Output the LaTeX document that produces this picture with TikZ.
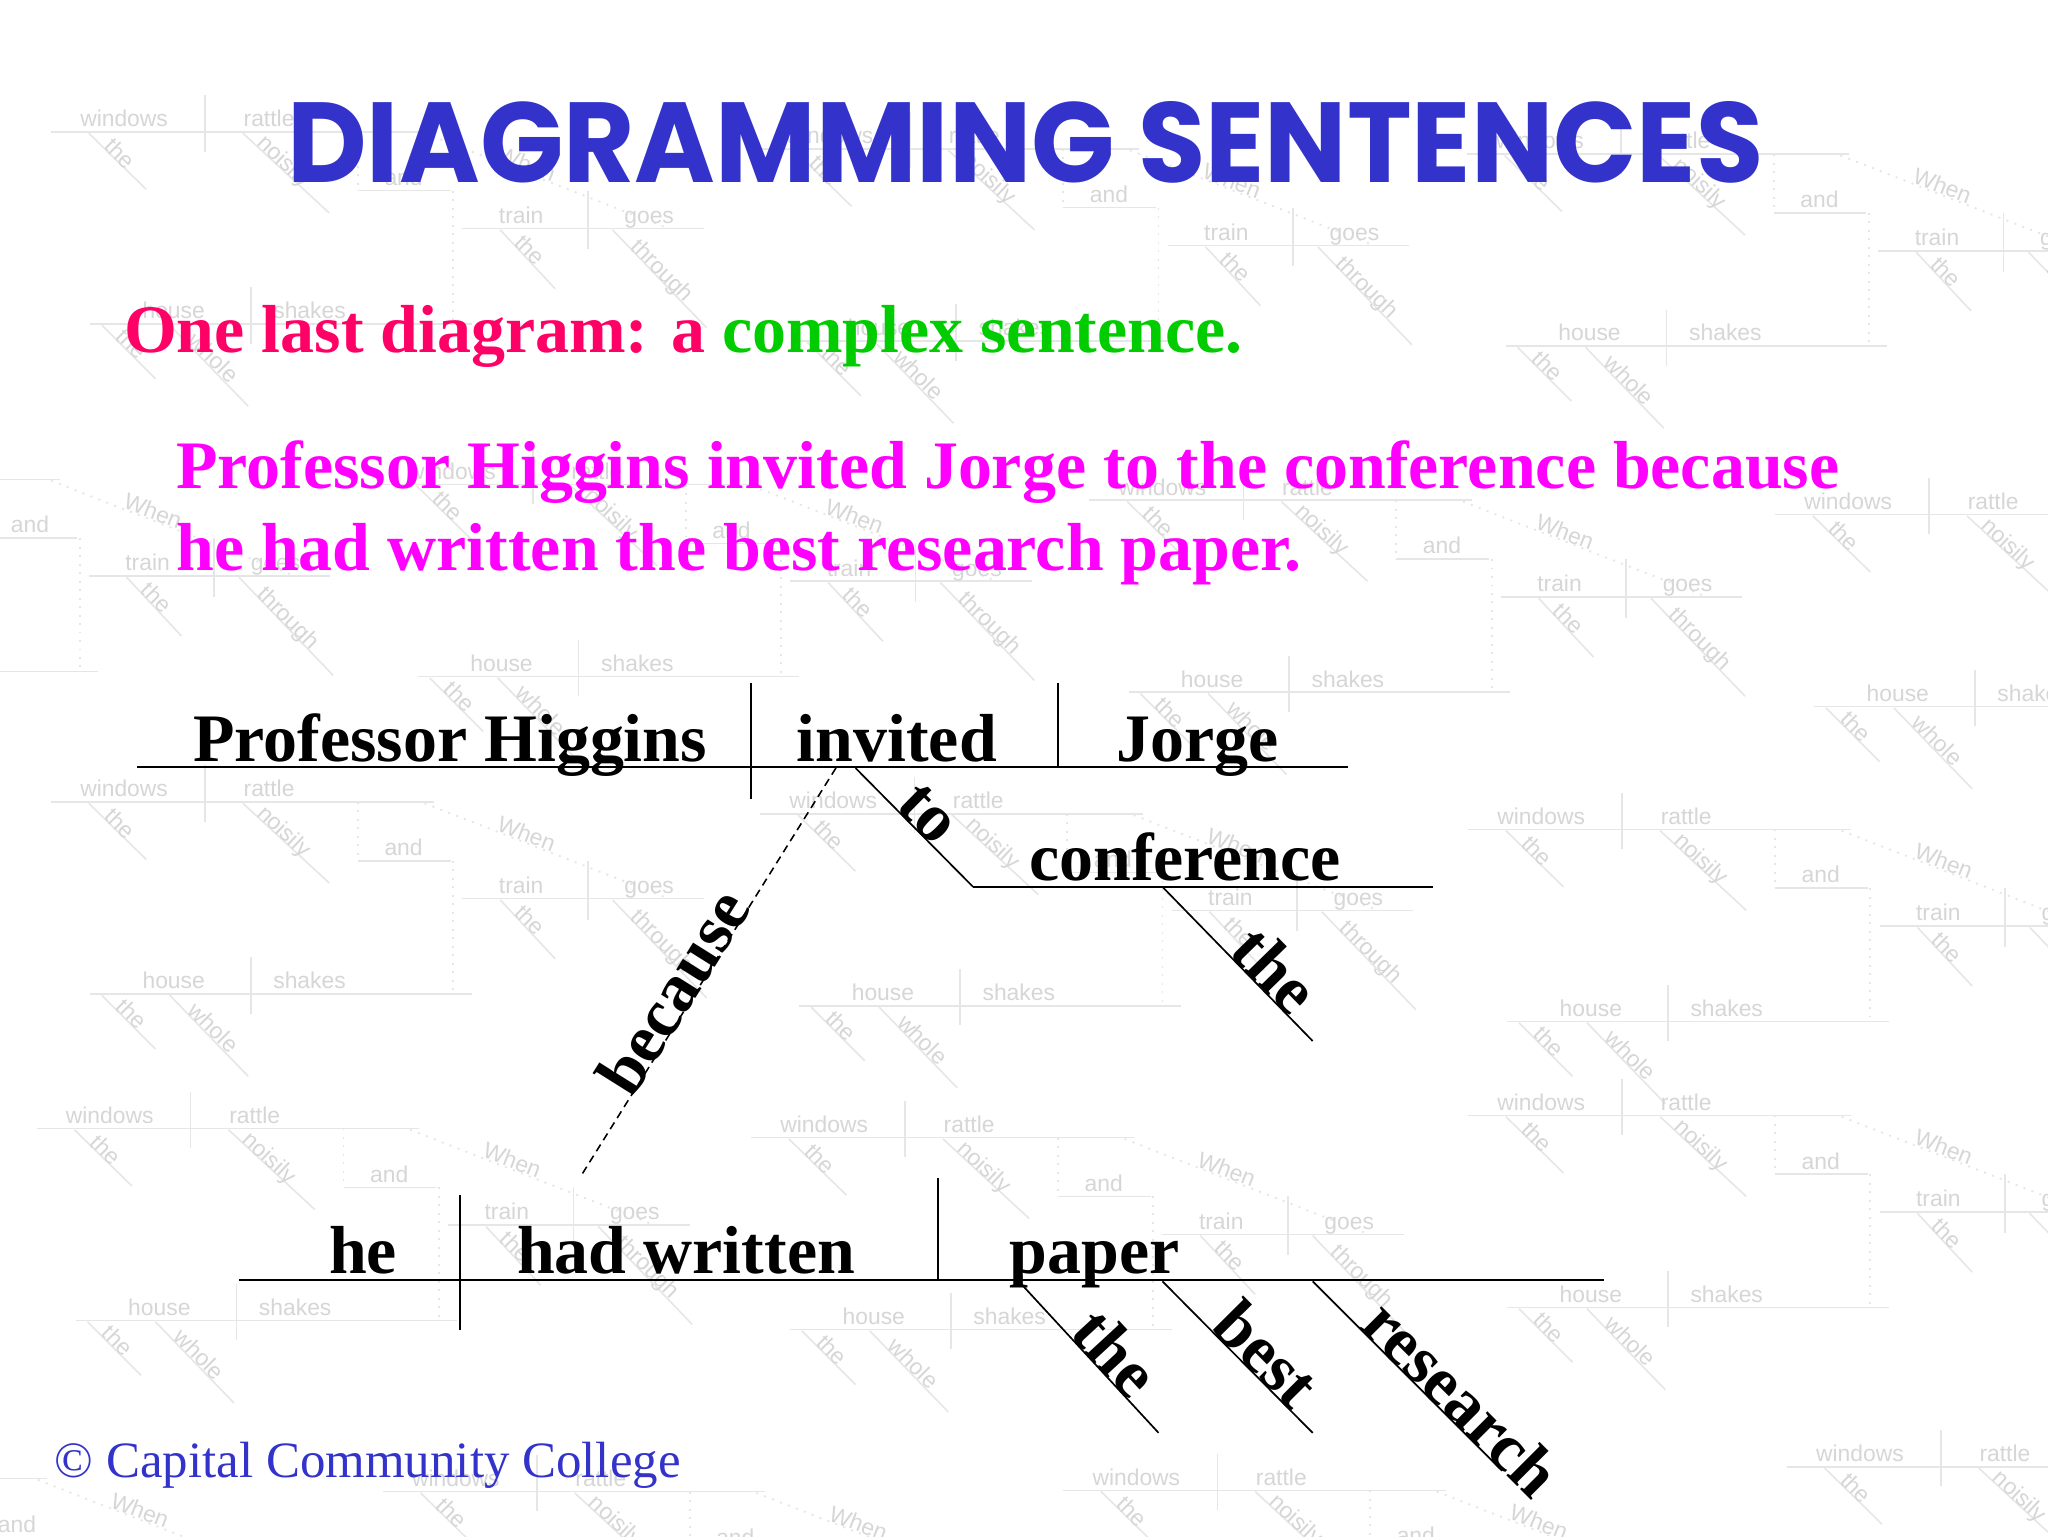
\documentclass[tikz,border=0pt]{standalone}
\usepackage{fontspec}
\setmainfont{Liberation Serif}
\newfontfamily\titlefont{Poppins}
\newfontfamily\bgfont{Liberation Sans}
\usetikzlibrary{calc}
\definecolor{titleblue}{RGB}{51,51,204}
\definecolor{subred}{RGB}{255,0,102}
\definecolor{subgreen}{RGB}{0,204,0}
\definecolor{magtext}{RGB}{255,0,255}
\definecolor{bggray}{RGB}{230,230,230}
\definecolor{bgtextgray}{RGB}{214,214,214}
\tikzset{
  txt/.style={inner sep=0pt, outer sep=0pt, anchor=base west},
  bigbold/.style={txt, font=\fontsize{52}{60}\selectfont\bfseries},
  diagline/.style={line width=1.6pt, black},
  divider/.style={line width=1.3pt, black},
  becline/.style={line width=1.2pt, black, dash pattern=on 6pt off 4pt},
  bgl/.style={draw=bggray, line width=1.2pt},
  bgd/.style={draw=bggray, line width=1.4pt, dash pattern=on 1.5pt off 5pt},
  bgt/.style={inner sep=0pt, outer sep=0pt, text=bgtextgray, font=\bgfont\fontsize{17.5}{20}\selectfont, anchor=base},
  bgtd/.style={bgt, anchor=base west, rotate=-45},
  bgtile/.pic={
    \draw[bgl] (-293,0) -- (0,0);
    \draw[bgl] (-175,-28) -- (-175,15);
    \node[bgt] (-w) at (-237,-4) {windows};
    \node[bgt] (-r) at (-126,-4) {rattle};
    \draw[bgl] (-264,1) -- (-220,44);
    \node[bgtd] (-t1) at (-253,12) {the};
    \draw[bgl] (-146,1) -- (-80,62);
    \node[bgtd, rotate=2] (-n) at (-136,10) {noisily};
    \draw[bgd] (-58,0) -- (-58,45);
    \draw[bgl] (-58,45) -- (13,45);
    \node[bgt] (-a) at (-23,41) {and};
    \draw[bgd] (15,45) -- (15,147);
    \draw[bgl] (-263,147) -- (29,147);
    \draw[bgl] (-140,119) -- (-140,162);
    \node[bgt] (-h) at (-199,143) {house};
    \node[bgt] (-s) at (-95,143) {shakes};
    \draw[bgl] (-254,148) -- (-213,189);
    \node[bgtd] (-t2) at (-244,158) {the};
    \draw[bgl] (-202,148) -- (-142,210);
    \node[bgtd] (-wh) at (-189,161) {whole};
    \draw[bgd] (-7,1) -- (180,74);
    \node[bgt, rotate=-21] (-wn) at (69,30) {When};
    \draw[bgl] (22,74) -- (207,74);
    \draw[bgl] (118,45) -- (118,90);
    \node[bgt] (-tr) at (67,70) {train};
    \node[bgt] (-g) at (165,70) {goes};
    \draw[bgl] (51,75) -- (93,120);
    \node[bgtd] (-t3) at (61,86) {the};
    \draw[bgl] (137,75) -- (209,150);
    \node[bgtd] (-th) at (150,89) {through};
  }
}
\begin{document}
\begin{tikzpicture}[x=1pt, y=-1pt]
  \useasboundingbox (0,0) rectangle (1568,1176);
  \fill[white] (0,0) rectangle (1568,1176);
  % faint background diagrams
  \begin{scope}
    \clip (0,0) rectangle (1568,1176);
    \foreach \nm/\px/\py in {a/332/101, b/1652/394, c/332/614, d/1417/635, e/321/864,
      f/868/871, g/1417/854, h/1107/1141, i/1661/1123, j/875/623, k/872/114,
      l/1127/383, m/583/371, n/1416/118, o/46/367, p/36/1132, q/586/1142}
      \pic (bg\nm) at (\px,\py) {bgtile};
  \end{scope}
  % titles
  \node[txt, text=titleblue] (title) at (220,140)
    {\resizebox{1130pt}{62pt}{\titlefont\bfseries DIAGRAMMING SENTENCES}};
  \node[bigbold] (subtitle) at (95,270)
    {\textcolor{subred}{One last diagram: a }\textcolor{subgreen}{complex sentence.}};
  \node[bigbold, text=magtext] (sent1) at (135,374)
    {Professor Higgins invited Jorge to the conference because};
  \node[bigbold, text=magtext] (sent2) at (135,437)
    {he had written the best research paper.};
  % main clause coordinates
  \coordinate (tl) at (105,587);
  \coordinate (tr) at (1032,587);
  \coordinate (d1t) at (575,523);
  \coordinate (d1b) at (575,612);
  \coordinate (d2t) at (810,523);
  \coordinate (d2b) at (810,587);
  \coordinate (toA) at (655,588);
  \coordinate (toB) at (745,679);
  \coordinate (confR) at (1097,679);
  \coordinate (theA) at (890,679);
  \coordinate (theB) at (1005,797);
  \coordinate (becA) at (640,588);
  \coordinate (becB) at (445,900);
  % subordinate clause coordinates
  \coordinate (bl) at (183,980);
  \coordinate (br) at (1228,980);
  \coordinate (d3t) at (352,915);
  \coordinate (d3b) at (352,1018);
  \coordinate (d4t) at (718,902);
  \coordinate (d4b) at (718,980);
  \coordinate (pthA) at (780,981);
  \coordinate (pthB) at (887,1097);
  \coordinate (bestA) at (890,981);
  \coordinate (bestB) at (1005,1097);
  \coordinate (resA) at (1005,981);
  \coordinate (resB) at (1150,1126);
  % lines
  \draw[diagline] (tl) -- (tr);
  \draw[divider] (d1t) -- (d1b);
  \draw[divider] (d2t) -- (d2b);
  \draw[divider] (toA) -- (toB);
  \draw[diagline] (toB) -- (confR);
  \draw[divider] (theA) -- (theB);
  \draw[becline] (becA) -- (becB);
  \draw[diagline] (bl) -- (br);
  \draw[divider] (d3t) -- (d3b);
  \draw[divider] (d4t) -- (d4b);
  \draw[divider] (pthA) -- (pthB);
  \draw[divider] (bestA) -- (bestB);
  \draw[divider] (resA) -- (resB);
  % words
  \node[bigbold] (subj) at (148,583) {Professor Higgins};
  \node[bigbold] (verb) at (610,583) {invited};
  \node[bigbold] (obj) at (855,583) {Jorge};
  \node[bigbold] (conf) at (788,674) {conference};
  \node[bigbold, rotate=-44.7] (to) at (685,618) {to};
  \node[bigbold, rotate=-45.7] (the1) at (940,730) {the};
  \node[bigbold, rotate=57.9] (because) at (484,842) {because};
  \node[bigbold] (he) at (252,975) {he};
  \node[bigbold] (hadwritten) at (396,975) {had written};
  \node[bigbold] (paper) at (773,975) {paper};
  \node[bigbold, rotate=-47.3] (the2) at (818,1022) {the};
  \node[bigbold, rotate=-45.2] (best) at (926,1017) {best};
  \node[bigbold, rotate=-45] (research) at (1040,1016) {research};
  % footer
  \node[txt, text=titleblue, font=\fontsize{39}{44}\selectfont] (copy) at (42,1131)
    {© Capital Community College};
\end{tikzpicture}
\end{document}
